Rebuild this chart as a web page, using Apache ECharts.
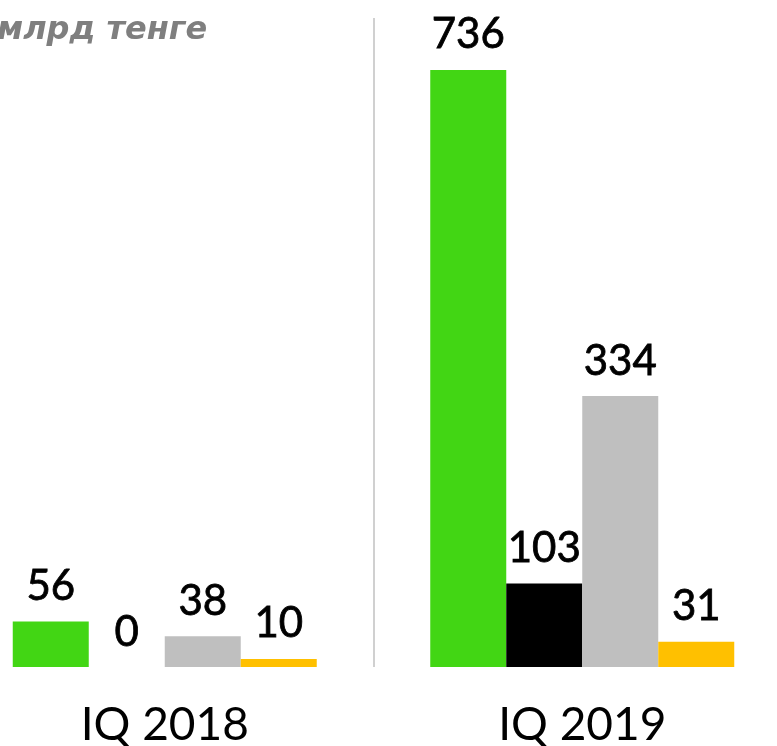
<!DOCTYPE html>
<html>
<head>
<meta charset="utf-8">
<script src="https://cdn.jsdelivr.net/npm/echarts@6/dist/echarts.min.js"></script>
<style>
  html, body { margin: 0; padding: 0; background: #fff; }
  #chart { width: 777px; height: 746px; }
</style>
</head>
<body>
<div id="chart"></div>
<script>
// данные
const categories = ['IQ 2018', 'IQ 2019']
const greenValues = [56, 736]
const blackValues = [0, 103]
const grayValues = [38, 334]
const yellowValues = [10, 31]

const chart = echarts.init(document.getElementById('chart'))

const valueLabel = {
  show: true,
  position: 'top',
  distance: 14,
  color: '#000',
  fontFamily: 'Lato',
  fontSize: 42,
  // чуть жирнее обычного
  textBorderColor: '#000',
  textBorderWidth: 0.8
}

function makeSeries(name, data, color) {
  return {
    name: name,
    type: 'bar',
    data: data,
    barWidth: 76,
    barGap: '0%',
    itemStyle: { color: color },
    label: valueLabel
  }
}

chart.setOption({
  animation: false,
  title: {
    text: 'млрд тенге',
    left: -8,
    top: 10,
    textStyle: {
      color: '#7f7f7f',
      fontFamily: 'DejaVu Sans',
      fontStyle: 'italic',
      fontWeight: 'bold',
      fontSize: 32
    }
  },
  grid: {
    left: -44,
    right: -14,
    top: 18,
    bottom: 79,
    containLabel: false,
    outerBoundsMode: 'none'
  },
  xAxis: {
    type: 'category',
    data: categories,
    axisLine: { show: false },
    axisTick: { show: false },
    splitLine: {
      show: true,
      lineStyle: { color: '#d0d0d0', width: 2 }
    },
    axisLabel: {
      color: '#000',
      fontFamily: 'Lato',
      fontSize: 46,
      margin: 35
    }
  },
  yAxis: {
    type: 'value',
    min: 0,
    max: 800,
    show: false,
    splitLine: { show: false }
  },
  series: [
    makeSeries('green', greenValues, '#42d614'),
    makeSeries('black', blackValues, '#000000'),
    makeSeries('gray', grayValues, '#bfbfbf'),
    makeSeries('yellow', yellowValues, '#ffc000')
  ]
})
</script>
</body>
</html>
